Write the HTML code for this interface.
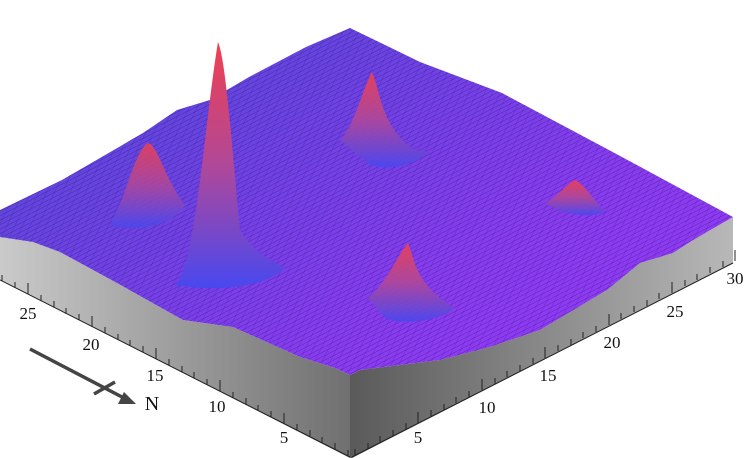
<!DOCTYPE html>
<html><head><style>body{margin:0;background:#fff}svg{display:block}</style></head><body>
<svg width="750" height="458" viewBox="0 0 750 458" xmlns="http://www.w3.org/2000/svg">
<defs>
<linearGradient id="lf" x1="0" y1="0" x2="1" y2="0"><stop offset="0" stop-color="#cacaca"/><stop offset="1" stop-color="#707070"/></linearGradient>
<linearGradient id="rf" x1="0" y1="0" x2="1" y2="0"><stop offset="0" stop-color="#5a5a5a"/><stop offset="1" stop-color="#b8b8b8"/></linearGradient>
<linearGradient id="sf" x1="0" y1="0" x2="1" y2="1"><stop offset="0" stop-color="#4c4ad4"/><stop offset="0.6" stop-color="#883cf0"/><stop offset="1" stop-color="#9a38fa"/></linearGradient>
<linearGradient id="pk" x1="0" y1="0" x2="0" y2="1"><stop offset="0" stop-color="#f04050"/><stop offset="0.5" stop-color="#b04898"/><stop offset="1" stop-color="#4848f0"/></linearGradient>
<pattern id="g1" width="4" height="4" patternUnits="userSpaceOnUse" patternTransform="rotate(-27)"><line x1="0" y1="0" x2="4" y2="0" stroke="#1a0850" stroke-width="0.7" opacity="0.6"/></pattern>
<pattern id="g2" width="7" height="7" patternUnits="userSpaceOnUse" patternTransform="rotate(26)"><line x1="0" y1="0" x2="0" y2="7" stroke="#1a0850" stroke-width="0.6" opacity="0.45"/></pattern>
<clipPath id="surf"><path d="M0,210 L62,180 L143,133 L177,110 L210,100 L249,77 L306,47 L350,28 L420,62 L502,93 L622,157 L733,217 L693,240 L673,253 L640,263 L607,290 L540,330 L490,347 L440,360 L360,370 L350,375 L335,368 L300,357 L233,327 L183,320 L117,283 L60,252 L33,242 L0,237 Z"/></clipPath>
</defs>
<path d="M0,237 L33,242 L60,252 L117,283 L183,320 L233,327 L300,357 L335,368 L350,375 L350,458 L0,280 Z" fill="url(#lf)"/>
<path d="M350,375 L360,370 L440,360 L490,347 L540,330 L607,290 L640,263 L673,253 L693,240 L733,217 L733,263 L352,458 L350,458 Z" fill="url(#rf)"/>
<g clip-path="url(#surf)">
<rect width="750" height="458" fill="url(#sf)"/>
<rect width="750" height="458" fill="url(#g1)"/>
<rect width="750" height="458" fill="url(#g2)"/>
</g>
<path d="M110,225 C125,200 135,150 148,143 C158,145 165,180 185,205 C175,225 140,232 110,225 Z" fill="url(#pk)" opacity="0.85"/>
<path d="M175,285 C195,270 205,120 218,42 C226,60 232,150 240,230 C255,255 275,262 285,268 C265,288 215,292 175,285 Z" fill="url(#pk)"/>
<path d="M340,140 C355,125 362,90 372,72 C380,90 382,130 415,150 L430,152 C410,168 385,170 370,165 Z" fill="url(#pk)" opacity="0.9"/>
<path d="M545,203 C560,195 565,185 575,180 C585,185 592,198 605,212 C590,218 565,216 545,203 Z" fill="url(#pk)" opacity="0.9"/>
<path d="M368,298 C385,285 398,255 408,243 C415,260 415,285 455,308 C440,322 400,325 385,318 Z" fill="url(#pk)" opacity="0.9"/>
<g stroke="#222" stroke-width="1">
<line x1="0" y1="280" x2="350" y2="457"/>
<line x1="352" y1="457" x2="733" y2="263"/>
<path d="M348,456v-6M335,449v-6M322,443v-6M310,436v-6M297,430v-6M284,424v-11M271,417v-6M258,411v-6M246,404v-6M233,398v-6M220,391v-11M207,385v-6M194,378v-6M182,372v-6M169,365v-6M156,359v-11M143,352v-6M130,346v-6M118,340v-6M105,333v-6M92,327v-11M79,320v-6M66,314v-6M54,307v-6M41,301v-6M28,294v-11M15,288v-6M2,281v-6"/>
<path d="M355,455v-6M368,449v-6M380,442v-6M393,436v-6M406,429v-6M418,423v-11M431,416v-6M444,410v-6M456,403v-6M469,397v-6M482,390v-11M495,384v-6M507,377v-6M520,371v-6M533,364v-6M545,358v-11M558,351v-6M571,345v-6M583,338v-6M596,332v-6M609,325v-11M621,319v-6M634,312v-6M647,306v-6M659,299v-6M672,293v-11M685,286v-6M697,280v-6M710,273v-6M723,267v-6M735,261v-11"/>
</g>
<g font-family="Liberation Serif, serif" font-size="17" fill="#111" text-anchor="middle">
<text x="28" y="319">25</text><text x="91" y="350">20</text><text x="155" y="381">15</text><text x="217" y="412">10</text><text x="284" y="443">5</text>
<text x="418" y="443">5</text><text x="487" y="413">10</text><text x="548" y="381">15</text><text x="612" y="348">20</text><text x="675" y="317">25</text><text x="735" y="284">30</text>
<text x="152" y="410" font-size="20">N</text>
</g>
<g stroke="#444" stroke-width="3.5"><line x1="30" y1="349" x2="122" y2="397"/><line x1="94" y1="394" x2="115" y2="382"/></g>
<path d="M136,404 L118,404 L124,392 Z" fill="#444"/>
</svg>
</body></html>
